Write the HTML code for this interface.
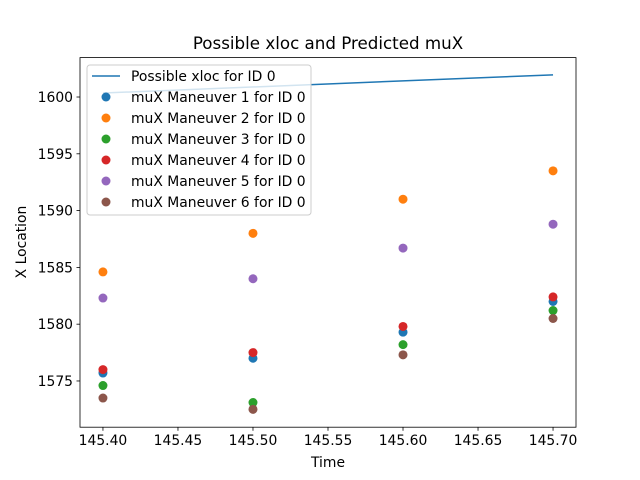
<!DOCTYPE html>
<html><head><meta charset="utf-8"><style>
body{margin:0;background:#fff;}
svg{display:block;font-family:"DejaVu Sans","Liberation Sans",sans-serif;}
</style></head><body>
<svg id="chart" width="640" height="480">
<rect width="640" height="480" fill="#fff"/>
<text x="328" y="49" font-size="16.7" text-anchor="middle">Possible xloc and Predicted muX</text>
<g id="plot"></g>
<text x="328" y="467" font-size="13.9" text-anchor="middle">Time</text>
<text x="26" y="242" font-size="13.9" text-anchor="middle" transform="rotate(-90 26 242)">X Location</text>
</svg>
<script>
const times=[145.4,145.5,145.6,145.7];
const xlocTimes=[145.4,145.7];
const xlocValues=[1600.35,1601.95];
const m1=[1575.7,1577.0,1579.3,1582.0];
const m2=[1584.6,1588.0,1591.0,1593.5];
const m3=[1574.6,1573.1,1578.2,1581.2];
const m4=[1576.0,1577.5,1579.8,1582.4];
const m5=[1582.3,1584.0,1586.7,1588.8];
const m6=[1573.5,1572.5,1577.3,1580.5];
const seriesNames=["muX Maneuver 1 for ID 0","muX Maneuver 2 for ID 0","muX Maneuver 3 for ID 0","muX Maneuver 4 for ID 0","muX Maneuver 5 for ID 0","muX Maneuver 6 for ID 0"];
const xTicks=[145.40,145.45,145.50,145.55,145.60,145.65,145.70];
const yTicks=[1575,1580,1585,1590,1595,1600];

const L=80,R=576,T=57.6,B=427.2;
const x0=145.3847,x1=145.7153,y0=1570.93,y1=1603.47;
const sx=v=>L+(v-x0)/(x1-x0)*(R-L);
const sy=v=>B-(v-y0)/(y1-y0)*(B-T);
const NS="http://www.w3.org/2000/svg";
const g=document.getElementById('plot');
function mk(tag,attrs,parent){const e=document.createElementNS(NS,tag);for(const k in attrs)e.setAttribute(k,attrs[k]);(parent||g).appendChild(e);return e;}
const colors=["#1f77b4","#ff7f0e","#2ca02c","#d62728","#9467bd","#8c564b"];

xTicks.forEach(t=>{const x=sx(t);
 const l=mk('line',{x1:x,x2:x,y1:B,y2:B+3.5,stroke:'#000','stroke-width':0.8});
 
 
 const tx=mk('text',{x:x,y:B+18,'font-size':13.9,'text-anchor':'middle'});tx.textContent=t.toFixed(2);
 
 });
yTicks.forEach(t=>{const y=sy(t);
 const l=mk('line',{x1:L-3.5,x2:L,y1:y,y2:y,stroke:'#000','stroke-width':0.8});
 
 
 const tx=mk('text',{x:L-7,y:y+5,'font-size':13.9,'text-anchor':'end'});tx.textContent=t;
 
 });

const ln=mk('polyline',{points:xlocTimes.map((t,i)=>sx(t)+','+sy(xlocValues[i])).join(' '),fill:'none',stroke:colors[0],'stroke-width':1.5});



[m1,m2,m3,m4,m5,m6].forEach((s,si)=>{s.forEach((v,i)=>{
 const c=mk('circle',{cx:sx(times[i]),cy:sy(v),r:4.5,fill:colors[si]});
 
 });});

const frame=mk('rect',{x:L,y:T,width:R-L,height:B-T,fill:'none',stroke:'#000','stroke-width':0.8});



const lg=mk('g',{});


mk('rect',{x:87,y:65,width:224,height:150,rx:3,fill:'#fff','fill-opacity':0.8,stroke:'#ccc'},lg);
const e0=mk('g',{},lg);


mk('line',{x1:92,x2:120,y1:76,y2:76,stroke:colors[0],'stroke-width':1.5},e0);
const t0=mk('text',{x:131,y:81,'font-size':13.9},e0);t0.textContent="Possible xloc for ID 0";
seriesNames.forEach((n,i)=>{const y=97+i*21;
 const e=mk('g',{},lg);
 
 
 mk('circle',{cx:106,cy:y,r:4.5,fill:colors[i]},e);
 const t=mk('text',{x:131,y:y+5,'font-size':13.9},e);t.textContent=n;});
</script>
</body></html>
